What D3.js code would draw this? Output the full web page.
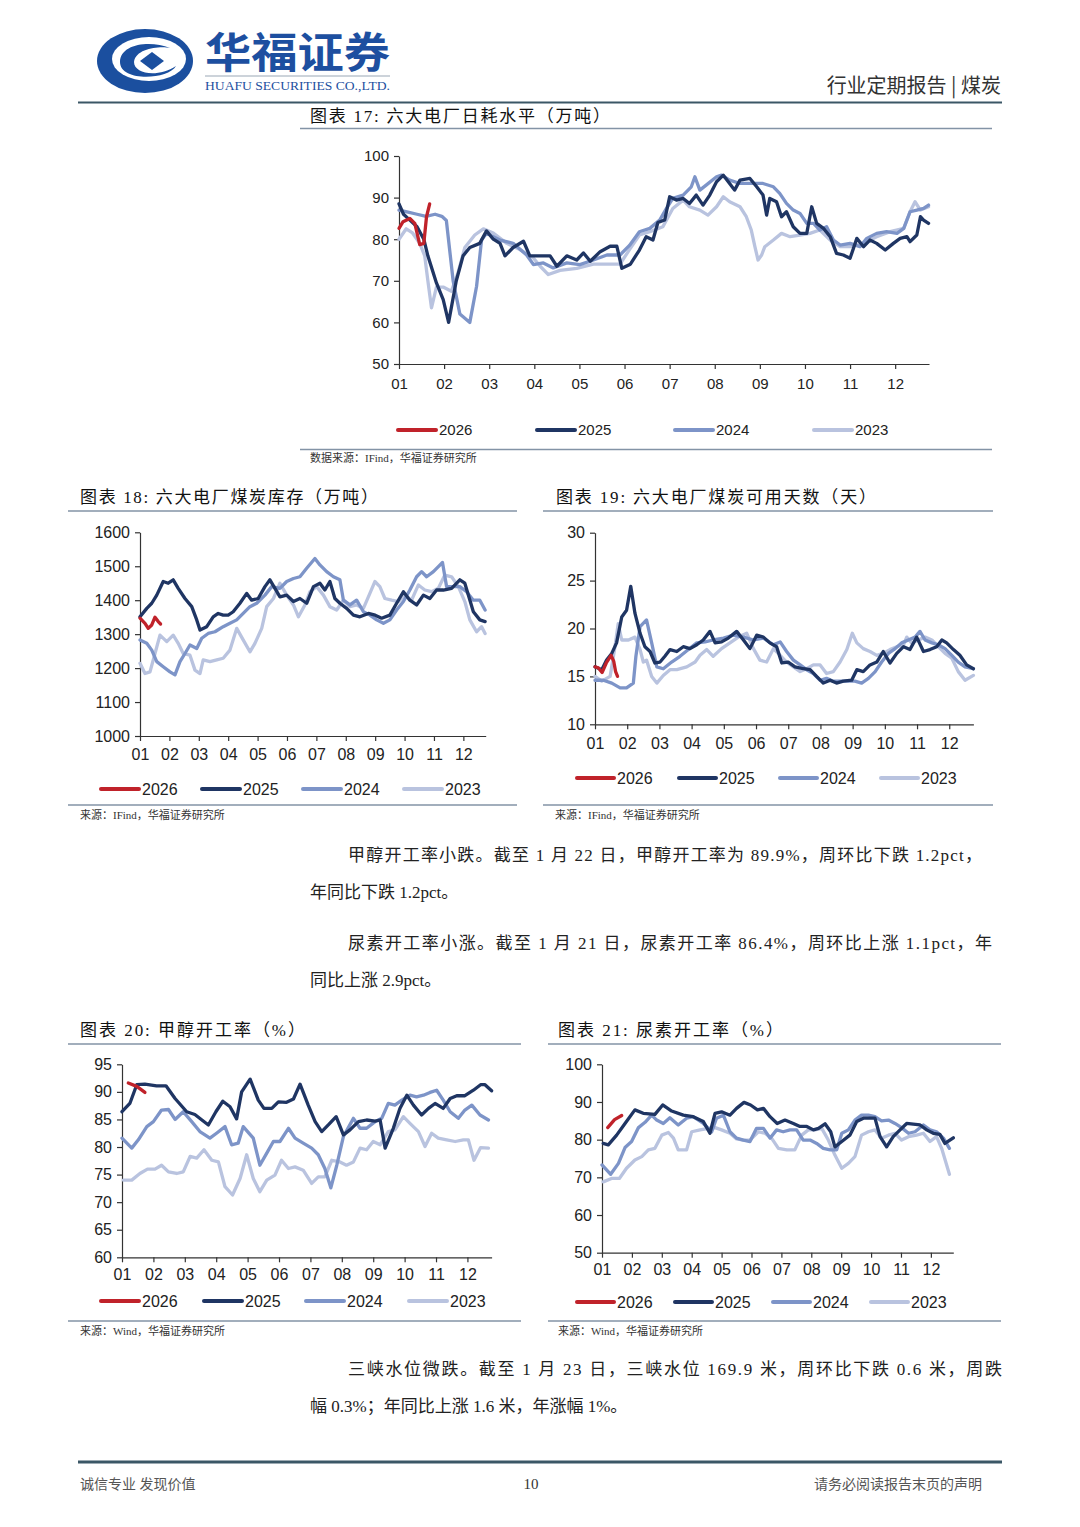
<!DOCTYPE html>
<html><head><meta charset="utf-8">
<script src="https://cdn.jsdelivr.net/npm/d3@7/dist/d3.min.js"></script>
<style>body{margin:0;background:#fff}svg{display:block}</style>
</head><body>
<svg id="page" width="1080" height="1527"></svg>
<script>
// ---------------- DATA ----------------
const monthLabels = ["01","02","03","04","05","06","07","08","09","10","11","12"];
const seriesNames = ["2026","2025","2024","2023"];

// Chart 17: 六大电厂日耗水平（万吨） [month offset, value]
const c17_2026 = [[0,82.6],[0.09,84.2],[0.24,85],[0.35,83.8],[0.46,78.7],[0.55,79],[0.61,85.4],[0.68,88.5]];
const c17_2025 = [[0,88.5],[0.1,86],[0.2,85],[0.3,84],[0.4,83],[0.55,80],[0.64,76],[0.83,69.5],[0.98,65.5],[1.1,60],[1.27,70],[1.42,76],[1.57,78],[1.79,79],[1.94,82],[2.09,80],[2.24,79],[2.35,76],[2.53,78],[2.76,79.5],[2.9,76],[3.13,76],[3.35,76],[3.5,73.5],[3.72,76],[3.94,75],[4.09,76.7],[4.24,74.7],[4.46,77],[4.68,78.3],[4.83,78.3],[4.94,73],[5.13,74],[5.33,77.4],[5.48,80.6],[5.63,79.8],[5.74,84],[5.89,84.6],[6.0,90.2],[6.15,89.4],[6.3,89.8],[6.44,88.6],[6.59,90.6],[6.74,88.2],[6.89,90.6],[7.04,93.8],[7.19,95.4],[7.33,93.4],[7.44,91.8],[7.56,94.2],[7.78,94.6],[7.93,92.6],[8.07,90.6],[8.15,85.8],[8.22,89.8],[8.37,89],[8.48,85.4],[8.59,86.6],[8.74,83],[8.89,81.4],[9.04,81.4],[9.15,87.8],[9.26,83.8],[9.41,82.6],[9.56,80.6],[9.7,76.6],[9.85,76.2],[10.0,75.4],[10.15,80.2],[10.3,78.2],[10.44,79.8],[10.59,79],[10.78,77.4],[10.96,79],[11.11,80.2],[11.26,80.6],[11.33,79.4],[11.48,81],[11.56,85.4],[11.63,84.6],[11.74,83.8]];
const c17_2024 = [[0,87],[0.2,86.5],[0.4,86],[0.6,85.5],[0.8,86],[0.95,85.5],[1.05,84.5],[1.2,70],[1.35,62],[1.57,60],[1.72,68.7],[1.83,79.8],[1.94,81.4],[2.24,79.8],[2.53,79],[2.83,76.2],[2.98,73.9],[3.2,74.3],[3.42,73.1],[3.72,74.3],[4.01,73.9],[4.31,75],[4.61,76.2],[4.9,76.2],[5.11,78.5],[5.33,81.8],[5.56,82.6],[5.78,84.6],[5.93,87.4],[6.07,89.8],[6.3,90.6],[6.48,92.6],[6.56,95],[6.67,91.8],[6.81,93],[7.04,95],[7.15,95.4],[7.33,94.2],[7.56,93.4],[7.78,93.4],[8.07,93.4],[8.3,92.6],[8.44,91],[8.59,88.6],[8.74,87],[8.89,86.2],[9.04,83.8],[9.19,83.8],[9.33,82.2],[9.48,83],[9.63,79.8],[9.78,78.6],[10.0,79],[10.22,78.2],[10.37,80.2],[10.59,81.4],[10.81,81.8],[11.04,81.4],[11.19,82.6],[11.33,86.6],[11.48,87],[11.63,87.4],[11.74,88.2]];
const c17_2023 = [[0,80],[0.16,82.5],[0.3,81.5],[0.46,79],[0.57,76],[0.64,70],[0.72,63.5],[0.83,68.5],[0.98,68.5],[1.16,67.5],[1.31,72],[1.46,78],[1.68,81],[1.87,82.5],[2.09,81.5],[2.39,79],[2.68,77.5],[2.98,75.5],[3.13,73.5],[3.31,71.5],[3.57,72.5],[3.94,73],[4.31,74],[4.61,74],[4.9,74],[5.11,77.5],[5.33,81],[5.56,81.8],[5.85,83],[6.07,87.4],[6.3,89.4],[6.44,87.8],[6.67,87],[6.85,85.8],[7.04,87.8],[7.19,90.2],[7.33,89],[7.56,87.8],[7.7,85.4],[7.81,82.2],[7.89,78.2],[7.96,75],[8.04,76.2],[8.11,78.2],[8.3,79.8],[8.48,81.4],[8.67,80.6],[8.89,81],[9.11,81.4],[9.33,82.2],[9.56,79.8],[9.78,78.2],[10.0,78.2],[10.3,79],[10.59,80.6],[10.89,81.8],[11.19,82.6],[11.33,86.6],[11.44,89],[11.56,87],[11.74,87.8]];

// Chart 18: 六大电厂煤炭库存（万吨）
const c18_2026 = [[0,1347],[0.17,1332],[0.28,1317],[0.4,1327],[0.51,1350],[0.62,1337],[0.7,1330]];
const c18_2025 = [[0,1351],[0.23,1376],[0.4,1391],[0.57,1415],[0.79,1455],[0.96,1450],[1.13,1460],[1.3,1435],[1.53,1405],[1.76,1381],[1.93,1342],[2.04,1312],[2.27,1322],[2.49,1351],[2.66,1361],[2.83,1356],[3.0,1356],[3.17,1366],[3.4,1391],[3.63,1420],[3.8,1400],[4.02,1405],[4.25,1440],[4.42,1460],[4.59,1435],[4.76,1410],[4.99,1415],[5.22,1396],[5.44,1405],[5.67,1391],[5.9,1440],[6.12,1450],[6.29,1430],[6.46,1455],[6.63,1405],[6.8,1391],[7.03,1376],[7.26,1356],[7.48,1351],[7.77,1361],[8.0,1356],[8.22,1347],[8.5,1356],[8.73,1391],[8.96,1425],[9.18,1400],[9.41,1386],[9.64,1415],[9.86,1405],[10.09,1430],[10.32,1430],[10.6,1435],[10.88,1460],[11.05,1450],[11.34,1366],[11.56,1342],[11.74,1337]];
const c18_2024 = [[0,1283],[0.23,1273],[0.4,1253],[0.57,1219],[0.79,1204],[1.02,1189],[1.19,1180],[1.36,1219],[1.53,1243],[1.7,1268],[1.93,1258],[2.1,1288],[2.32,1302],[2.55,1307],[2.83,1322],[3.06,1332],[3.29,1342],[3.51,1361],[3.74,1381],[3.97,1391],[4.25,1415],[4.48,1440],[4.76,1435],[4.99,1455],[5.22,1464],[5.44,1469],[5.67,1494],[5.95,1523],[6.12,1504],[6.35,1484],[6.58,1469],[6.8,1460],[6.92,1400],[7.14,1386],[7.37,1400],[7.6,1366],[7.82,1356],[8.05,1342],[8.28,1332],[8.5,1342],[8.73,1371],[8.96,1396],[9.18,1430],[9.41,1469],[9.58,1484],[9.75,1469],[9.98,1484],[10.15,1499],[10.29,1511],[10.43,1440],[10.66,1440],[10.88,1440],[11.11,1425],[11.34,1400],[11.56,1400],[11.74,1371]];
const c18_2023 = [[0,1214],[0.17,1184],[0.34,1189],[0.51,1243],[0.68,1297],[0.91,1278],[1.13,1297],[1.3,1273],[1.47,1243],[1.7,1238],[1.87,1194],[2.04,1184],[2.15,1224],[2.38,1219],[2.61,1224],[2.83,1229],[3.06,1253],[3.29,1317],[3.51,1283],[3.74,1248],[3.91,1273],[4.14,1317],[4.31,1381],[4.54,1405],[4.76,1450],[4.99,1415],[5.22,1386],[5.39,1351],[5.61,1386],[5.78,1425],[6.01,1440],[6.24,1415],[6.46,1381],[6.69,1371],[6.92,1400],[7.14,1381],[7.37,1386],[7.6,1376],[7.82,1420],[7.99,1455],[8.16,1440],[8.33,1405],[8.56,1400],[8.79,1396],[9.01,1415],[9.24,1400],[9.47,1445],[9.69,1430],[9.92,1425],[10.15,1435],[10.37,1474],[10.6,1469],[10.83,1440],[11.05,1396],[11.22,1342],[11.45,1307],[11.62,1322],[11.74,1302]];

// Chart 19: 六大电厂煤炭可用天数（天）
const c19_2026 = [[0,16],[0.1,15.9],[0.22,15.4],[0.35,16.4],[0.5,17.2],[0.58,16.6],[0.64,15.5],[0.7,15]];
const c19_2025 = [[0,16],[0.21,15.7],[0.36,16.7],[0.52,17.4],[0.67,18.5],[0.83,21.2],[0.98,21.9],[1.11,24.4],[1.24,21.6],[1.4,19.5],[1.55,18.1],[1.71,17.6],[1.86,16.4],[2.02,16.5],[2.17,17.1],[2.33,17.8],[2.54,17.6],[2.74,18.1],[2.95,17.9],[3.16,18.3],[3.36,18.8],[3.57,19.7],[3.73,18.5],[3.93,18.6],[4.14,19],[4.4,19.7],[4.61,18.8],[4.81,17.9],[5.02,19.3],[5.23,19.1],[5.43,18.5],[5.64,18.1],[5.8,16.4],[6.0,16.5],[6.21,16],[6.47,15.8],[6.68,15.7],[6.88,15],[7.09,14.3],[7.3,14.6],[7.5,14.3],[7.71,14.5],[7.97,14.6],[8.13,15.7],[8.33,15.5],[8.54,16.2],[8.75,16.5],[8.95,17.6],[9.16,16.4],[9.37,17.4],[9.58,18.1],[9.78,17.8],[9.99,19.1],[10.2,17.6],[10.4,17.8],[10.61,18.1],[10.77,18.8],[10.92,18.5],[11.13,17.8],[11.33,17.2],[11.54,16.2],[11.75,15.8]];
const c19_2024 = [[0,14.6],[0.26,14.6],[0.52,14.3],[0.78,13.8],[0.98,13.8],[1.19,14.3],[1.27,17.1],[1.4,20.2],[1.6,20.9],[1.76,18.5],[1.92,16],[2.12,15.8],[2.38,16.5],[2.64,17.1],[2.9,17.8],[3.16,18.5],[3.42,18.6],[3.67,18.8],[3.99,19],[4.3,19.3],[4.61,19.1],[4.92,18.8],[5.23,19],[5.54,18.3],[5.75,18.6],[5.95,17.6],[6.16,16.7],[6.37,16.2],[6.57,15.7],[6.78,15.3],[6.99,14.6],[7.19,14.8],[7.4,14.5],[7.61,14.5],[7.82,14.5],[8.07,14.5],[8.28,14.3],[8.49,14.8],[8.7,15.5],[8.9,16.5],[9.11,17.4],[9.32,17.9],[9.52,18.5],[9.73,18.8],[9.94,19.1],[10.09,19.7],[10.25,18.8],[10.46,18.5],[10.66,18.3],[10.87,17.9],[11.08,17.2],[11.28,16.5],[11.49,16],[11.75,15.8]];
const c19_2023 = [[0,15],[0.21,14.5],[0.47,15],[0.62,18.1],[0.72,20.5],[0.83,18.8],[1.04,18.8],[1.24,19.1],[1.4,17.8],[1.5,16.5],[1.6,16.7],[1.76,15],[1.92,14.3],[2.12,15.1],[2.33,15.7],[2.54,15.7],[2.85,16],[3.11,16.5],[3.26,17.2],[3.47,17.8],[3.67,17.1],[3.93,17.9],[4.19,18.5],[4.45,19.1],[4.71,19.5],[4.92,17.9],[5.12,16.7],[5.33,16.5],[5.54,17.9],[5.75,17.2],[5.95,16.5],[6.16,16],[6.37,15.5],[6.57,15.8],[6.78,16.2],[6.99,16.2],[7.19,15.3],[7.4,15.5],[7.61,16.5],[7.82,17.8],[7.99,19.5],[8.13,18.5],[8.33,17.9],[8.54,17.6],[8.75,17.2],[8.95,17.4],[9.16,17.8],[9.37,18.1],[9.58,18.3],[9.68,19.1],[9.83,18.5],[10.04,18.8],[10.25,19.1],[10.46,18.8],[10.66,18.1],[10.87,17.4],[11.08,16.9],[11.28,15.5],[11.49,14.6],[11.75,15.1]];

// Chart 20: 甲醇开工率（%）
const c20_2026 = [[0.2,91.6],[0.47,91],[0.73,89.9]];
const c20_2025 = [[0,86.4],[0.25,87.9],[0.47,91.3],[0.73,91.4],[1.1,91.1],[1.4,91.1],[1.69,88.8],[2.06,86.4],[2.32,85.9],[2.75,84],[2.99,86.4],[3.21,88.3],[3.44,87.3],[3.65,85.1],[3.81,90],[4.08,92.3],[4.34,88.5],[4.52,87],[4.77,87],[4.98,88.2],[5.24,88.1],[5.46,88.7],[5.67,91.4],[5.93,87.6],[6.15,84.6],[6.36,82.8],[6.57,84],[6.82,85.5],[7.05,82.2],[7.26,83.1],[7.53,84.6],[7.79,84.9],[8.06,84.7],[8.22,84.9],[8.38,79.8],[8.64,83.4],[8.85,87],[9.07,89.4],[9.28,87.6],[9.54,85.8],[9.76,87],[9.97,87.9],[10.23,87],[10.45,88.8],[10.66,89.3],[10.92,89.3],[11.19,90.3],[11.42,91.3],[11.56,91.3],[11.77,90.2]];
const c20_2024 = [[0,81.6],[0.31,79.8],[0.52,81.3],[0.79,83.7],[1.0,84.6],[1.26,86.7],[1.48,86.8],[1.69,85],[1.95,86.4],[2.22,84.6],[2.48,82.8],[2.8,81.6],[3.01,82.5],[3.28,83.7],[3.49,80.4],[3.7,80.7],[3.86,83.7],[4.18,81.6],[4.39,76.7],[4.61,78.9],[4.82,81],[5.03,81],[5.3,83.4],[5.51,81.6],[5.77,80.7],[6.04,79.8],[6.25,78.6],[6.46,76.1],[6.65,72.6],[6.84,76.7],[7.05,81.9],[7.37,85.2],[7.58,83.4],[7.79,83.4],[8.06,84.6],[8.27,85.2],[8.48,87.9],[8.69,87.6],[8.91,88.5],[9.17,89.4],[9.38,89.1],[9.6,89.4],[9.81,89.9],[10.02,90.3],[10.23,88.5],[10.45,86.4],[10.71,85.2],[10.92,86.7],[11.14,87.6],[11.4,85.8],[11.67,84.9]];
const c20_2023 = [[0.04,74],[0.31,74],[0.57,75.2],[0.81,76],[1.05,76],[1.26,76.7],[1.48,75.5],[1.74,75.2],[1.95,75.5],[2.17,78.3],[2.38,78],[2.61,79.5],[2.86,77.6],[3.07,77.3],[3.28,72.8],[3.52,71.3],[3.76,74.3],[3.97,78.6],[4.18,74.3],[4.39,71.9],[4.61,74],[4.87,74.9],[5.08,77.6],[5.3,76.1],[5.51,76.4],[5.77,75.8],[6.04,73.4],[6.25,74.6],[6.46,74.6],[6.68,77.6],[6.94,77.3],[7.15,76.7],[7.37,77.3],[7.58,79.8],[7.79,79.5],[8.0,81],[8.22,80.4],[8.48,82.8],[8.69,83.1],[8.96,85.5],[9.17,84.3],[9.44,82.8],[9.65,80.1],[9.86,82.5],[10.07,81.6],[10.34,81.3],[10.61,81],[10.87,81.3],[11.03,81.3],[11.21,77.6],[11.42,79.9],[11.67,79.8]];

// Chart 21: 尿素开工率（%）
const c21_2026 = [[0.19,83.2],[0.42,85.3],[0.66,86.4]];
const c21_2025 = [[0.04,79],[0.21,78.6],[0.49,81.2],[0.77,84.3],[1.1,87.9],[1.38,87],[1.77,86.7],[2.03,89.2],[2.33,87.6],[2.72,86.5],[3.05,86.1],[3.39,84.8],[3.61,81.7],[3.78,87],[4.0,87.4],[4.28,86.5],[4.5,88.3],[4.75,89.9],[4.97,89.2],[5.2,87.9],[5.4,88.3],[5.62,86.1],[5.86,84.3],[6.12,85.2],[6.4,84.3],[6.62,83.5],[6.85,83.5],[7.07,82.6],[7.24,83],[7.46,84.2],[7.65,82.1],[7.79,78.1],[8.02,79.5],[8.29,81.2],[8.52,84.8],[8.74,85.7],[9.02,85.7],[9.13,85.7],[9.3,80.8],[9.52,78.1],[9.74,80.8],[9.97,82.6],[10.19,84.3],[10.41,84.1],[10.64,83.9],[10.86,82.6],[11.08,81.7],[11.3,81.4],[11.47,79],[11.75,80.5]];
const c21_2024 = [[0,73.3],[0.29,70.8],[0.55,73.7],[0.77,77.9],[0.99,79.5],[1.22,83.2],[1.44,84.6],[1.66,86.5],[1.83,85.2],[2.05,84.3],[2.27,85.8],[2.55,83.9],[2.83,85.7],[3.05,86.1],[3.39,84.3],[3.67,82.1],[3.83,85.7],[4.06,86.5],[4.28,82.1],[4.5,80.4],[4.73,79.9],[4.95,79.5],[5.17,83],[5.4,83],[5.62,80.4],[5.84,82.6],[6.06,82.1],[6.29,82.6],[6.51,82.6],[6.73,79.9],[6.96,79.9],[7.18,79],[7.4,77.7],[7.63,77.3],[7.85,77.3],[8.02,81.7],[8.24,82.6],[8.46,85.2],[8.68,86.5],[8.91,86.5],[9.13,86.1],[9.35,85],[9.58,85.2],[9.8,84.3],[10.02,83.2],[10.25,81.7],[10.47,82.1],[10.75,83.9],[10.97,82.6],[11.19,82.1],[11.42,80.4],[11.62,77.7]];
const c21_2023 = [[0.04,68.8],[0.32,69.7],[0.58,69.7],[0.82,72.4],[1.1,74.6],[1.33,75.5],[1.55,77.3],[1.77,77.7],[2.0,81.2],[2.22,81.9],[2.39,80.4],[2.55,77.3],[2.83,77.3],[3.0,82.1],[3.28,82.6],[3.56,83],[3.78,83.2],[4.0,82.6],[4.28,81.7],[4.5,80.2],[4.73,79.9],[4.95,79.9],[5.23,82.1],[5.45,81.7],[5.67,80.4],[5.9,77.7],[6.18,77.3],[6.45,77.3],[6.68,81.2],[6.9,82.6],[7.12,82.6],[7.35,83],[7.57,79.9],[7.79,75.9],[8.02,72.4],[8.24,73.7],[8.46,75.5],[8.68,81.2],[8.91,82.1],[9.13,82.6],[9.35,80.4],[9.58,81.2],[9.8,81.7],[10.02,79.9],[10.25,80.8],[10.52,81.2],[10.75,81.7],[10.97,79.5],[11.19,80.8],[11.36,77.7],[11.62,70.8]];

// Text content
const headerRight = "行业定期报告 | 煤炭";
const titles = ["图表 17:  六大电厂日耗水平（万吨）","图表 18:  六大电厂煤炭库存（万吨）","图表 19:  六大电厂煤炭可用天数（天）","图表 20:  甲醇开工率（%）","图表 21:  尿素开工率（%）"];
const sources = ["数据来源：IFind，华福证券研究所","来源：IFind，华福证券研究所","来源：IFind，华福证券研究所","来源：Wind，华福证券研究所","来源：Wind，华福证券研究所"];
const paragraphs = [
  ["甲醇开工率小跌。截至 1 月 22 日，甲醇开工率为 89.9%，周环比下跌 1.2pct，","年同比下跌 1.2pct。"],
  ["尿素开工率小涨。截至 1 月 21 日，尿素开工率 86.4%，周环比上涨 1.1pct，年","同比上涨 2.9pct。"],
  ["三峡水位微跌。截至 1 月 23 日，三峡水位 169.9 米，周环比下跌 0.6 米，周跌","幅 0.3%；年同比上涨 1.6 米，年涨幅 1%。"]
];
const footer = ["诚信专业  发现价值","10","请务必阅读报告末页的声明"];

// ---------------- STYLE ----------------
const colors = {"2026":"#c0222a","2025":"#1f3563","2024":"#7d94c8","2023":"#b9c3df"};
const serifMix = "'Liberation Serif','Times New Roman','Noto Sans CJK SC',serif";
const sansNum = "'Liberation Sans',Arial,sans-serif";

const svg = d3.select("#page");
svg.append("rect").attr("width",1080).attr("height",1527).attr("fill","#fff");

// ---------------- HEADER ----------------
const logo = svg.append("g");
logo.append("ellipse").attr("cx",145).attr("cy",61).attr("rx",48).attr("ry",32).attr("fill","#1b4f9f");
logo.append("ellipse").attr("cx",149).attr("cy",59).attr("rx",37).attr("ry",22).attr("fill","#fff");
logo.append("path").attr("d","M120,62 C120,44 150,40 170,48 C160,46 136,48 134,62 C134,74 158,78 176,66 C168,80 120,82 120,62 Z").attr("fill","#1b4f9f");
logo.append("path").attr("d","M152,52 L164,61 L152,70 L140,61 Z").attr("fill","#1b4f9f");
svg.append("text").attr("x",205).attr("y",68).attr("font-family","'Noto Sans CJK SC',sans-serif").attr("font-weight",700)
  .attr("font-size",42).attr("fill","#1d4fa0").attr("textLength",185).attr("lengthAdjust","spacingAndGlyphs").text("华福证券");
svg.append("line").attr("x1",205).attr("x2",390).attr("y1",76).attr("y2",76).attr("stroke","#9aa7b5").attr("stroke-width",1);
svg.append("text").attr("x",205).attr("y",90).attr("font-family",serifMix).attr("font-size",12).attr("fill","#1d4fa0")
  .attr("textLength",185).attr("lengthAdjust","spacingAndGlyphs").text("HUAFU SECURITIES CO.,LTD.");
svg.append("text").attr("x",1001).attr("y",93).attr("text-anchor","end").attr("font-family","'Noto Sans CJK SC',sans-serif")
  .attr("font-size",20).attr("fill","#333").text(headerRight);
svg.append("line").attr("x1",78).attr("x2",1002).attr("y1",102.5).attr("y2",102.5).attr("stroke","#3b5766").attr("stroke-width",2);

// ---------------- CHART FUNCTION ----------------
function drawChart(cfg){
  const g = svg.append("g");
  g.append("text").attr("x",cfg.title.x).attr("y",cfg.title.y).attr("font-family",serifMix).attr("font-size",17)
    .attr("fill","#111").attr("textLength",cfg.title.w).attr("lengthAdjust","spacing").text(cfg.title.text);
  g.append("line").attr("x1",cfg.rule[0]).attr("x2",cfg.rule[1]).attr("y1",cfg.title.ruleY).attr("y2",cfg.title.ruleY)
    .attr("stroke","#8393a6").attr("stroke-width",1.5);
  g.append("line").attr("x1",cfg.rule[0]).attr("x2",cfg.rule[1]).attr("y1",cfg.source.ruleY).attr("y2",cfg.source.ruleY)
    .attr("stroke","#8393a6").attr("stroke-width",1.5);
  g.append("text").attr("x",cfg.source.x).attr("y",cfg.source.y).attr("font-family",serifMix).attr("font-size",11)
    .attr("fill","#333").text(cfg.source.text);

  const x = d3.scaleLinear().domain([0, cfg.xMax]).range([cfg.left, cfg.right]);
  const y = d3.scaleLinear().domain(cfg.yDomain).range([cfg.bottom, cfg.top]);

  const ya = g.append("g").attr("transform",`translate(${cfg.left},0)`)
    .call(d3.axisLeft(y).tickValues(cfg.yTicks).tickFormat(d3.format("d")).tickSize(5).tickSizeOuter(0).tickPadding(5));
  const xa = g.append("g").attr("transform",`translate(0,${cfg.bottom})`)
    .call(d3.axisBottom(x).tickValues(d3.range(12)).tickFormat(i=>monthLabels[i]).tickSize(5).tickSizeOuter(0).tickPadding(cfg.xPad));
  [ya,xa].forEach(a=>{
    a.selectAll("path,line").attr("stroke","#333").attr("stroke-width",1.2);
    a.selectAll("text").attr("font-family",sansNum).attr("font-size",cfg.fs).attr("fill","#222");
  });

  const line = d3.line().x(d=>x(d[0])).y(d=>y(d[1])).curve(d3.curveLinear);
  const order = ["2023","2024","2025","2026"];
  order.forEach(name=>{
    g.append("path").datum(cfg.data[name]).attr("d",line).attr("fill","none")
      .attr("stroke",colors[name]).attr("stroke-width",cfg.lw).attr("stroke-linejoin","round").attr("stroke-linecap","round");
  });

  seriesNames.forEach((name,i)=>{
    const it = cfg.legend.items[i];
    g.append("line").attr("x1",it[0]).attr("x2",it[1]).attr("y1",cfg.legend.y).attr("y2",cfg.legend.y)
      .attr("stroke",colors[name]).attr("stroke-width",4).attr("stroke-linecap","round");
    g.append("text").attr("x",it[1]+3).attr("y",cfg.legend.y).attr("dy","0.36em").attr("font-family",sansNum)
      .attr("font-size",cfg.fs).attr("fill","#222").text(name);
  });
}

// ---------------- CHARTS ----------------
drawChart({
  title:{text:titles[0],x:310,y:122,w:300,ruleY:128.5}, rule:[300,992],
  source:{text:sources[0],x:310,y:462,ruleY:449.5},
  left:399,right:929,top:156,bottom:364,xMax:11.75,yDomain:[50,100],yTicks:[50,60,70,80,90,100],
  fs:15,xPad:9,lw:3.3,
  data:{"2026":c17_2026,"2025":c17_2025,"2024":c17_2024,"2023":c17_2023},
  legend:{y:430,items:[[398,436],[537,575],[675,713],[814,852]]}
});
drawChart({
  title:{text:titles[1],x:80,y:503,w:298,ruleY:511}, rule:[68,517],
  source:{text:sources[1],x:80,y:819,ruleY:805},
  left:140,right:485.7,top:532.3,bottom:736,xMax:11.76,yDomain:[1000,1600],yTicks:[1000,1100,1200,1300,1400,1500,1600],
  fs:16,xPad:8,lw:3.3,
  data:{"2026":c18_2026,"2025":c18_2025,"2024":c18_2024,"2023":c18_2023},
  legend:{y:789,items:[[101,139],[202,240],[303,341],[404,442]]}
});
drawChart({
  title:{text:titles[2],x:556,y:503,w:320,ruleY:511}, rule:[543,993],
  source:{text:sources[2],x:555,y:819,ruleY:805},
  left:595,right:973.4,top:532.7,bottom:724.3,xMax:11.75,yDomain:[10,30],yTicks:[10,15,20,25,30],
  fs:16,xPad:8,lw:3.3,
  data:{"2026":c19_2026,"2025":c19_2025,"2024":c19_2024,"2023":c19_2023},
  legend:{y:778,items:[[577,614],[679,716],[780,817],[881,918]]}
});
drawChart({
  title:{text:titles[3],x:80,y:1036,w:225,ruleY:1044}, rule:[68,521],
  source:{text:sources[3],x:80,y:1335,ruleY:1321},
  left:122,right:491.6,top:1064.3,bottom:1257.3,xMax:11.77,yDomain:[60,95],yTicks:[60,65,70,75,80,85,90,95],
  fs:16,xPad:6,lw:3.3,
  data:{"2026":c20_2026,"2025":c20_2025,"2024":c20_2024,"2023":c20_2023},
  legend:{y:1301,items:[[101,139],[204,242],[306,344],[409,447]]}
});
drawChart({
  title:{text:titles[4],x:558,y:1036,w:225,ruleY:1044}, rule:[548,1001],
  source:{text:sources[4],x:558,y:1335,ruleY:1321},
  left:602,right:953.3,top:1064.3,bottom:1252.7,xMax:11.75,yDomain:[50,100],yTicks:[50,60,70,80,90,100],
  fs:16,xPad:6,lw:3.3,
  data:{"2026":c21_2026,"2025":c21_2025,"2024":c21_2024,"2023":c21_2023},
  legend:{y:1302,items:[[577,614],[675,712],[773,810],[871,908]]}
});

// ---------------- PARAGRAPHS ----------------
const paraPos = [
  {x1:348,w1:634,y1:861,x2:310,y2:898},
  {x1:348,w1:644,y1:949,x2:310,y2:986},
  {x1:348,w1:654,y1:1375,x2:310,y2:1412}
];
paragraphs.forEach((p,i)=>{
  const pp = paraPos[i];
  svg.append("text").attr("x",pp.x1).attr("y",pp.y1).attr("font-family",serifMix).attr("font-size",17).attr("fill","#222")
    .attr("textLength",pp.w1).attr("lengthAdjust","spacing").text(p[0]);
  svg.append("text").attr("x",pp.x2).attr("y",pp.y2).attr("font-family",serifMix).attr("font-size",17).attr("fill","#222").text(p[1]);
});

// ---------------- FOOTER ----------------
svg.append("line").attr("x1",78).attr("x2",1002).attr("y1",1462).attr("y2",1462).attr("stroke","#3b5766").attr("stroke-width",3);
svg.append("text").attr("x",80).attr("y",1489).attr("font-family",serifMix).attr("font-size",14).attr("fill","#555").text(footer[0]);
svg.append("text").attr("x",531).attr("y",1489).attr("text-anchor","middle").attr("font-family",serifMix).attr("font-size",15).attr("fill","#333").text(footer[1]);
svg.append("text").attr("x",982).attr("y",1489).attr("text-anchor","end").attr("font-family",serifMix).attr("font-size",14).attr("fill","#555").text(footer[2]);
</script>
</body></html>
